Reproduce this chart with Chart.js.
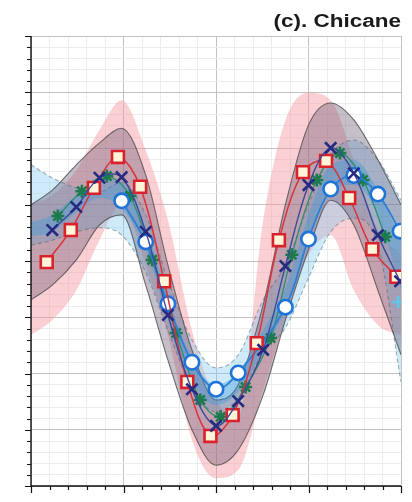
<!DOCTYPE html>
<html>
<head>
<meta charset="utf-8">
<script src="https://cdn.jsdelivr.net/npm/chart.js@4/dist/chart.umd.min.js"></script>
<style>
  html, body { margin: 0; padding: 0; background: #fff; }
  #wrap { position: relative; width: 412px; height: 502px; }
  #title {
    position: absolute; right: 11px; top: 12px;
    font: bold 18px "Liberation Sans", Arial, sans-serif; line-height: 18px;
    color: #1a1a1a; transform: scaleX(1.25); transform-origin: right top; white-space: nowrap;
  }
</style>
</head>
<body>
<div id="wrap">
  <canvas id="c" width="412" height="502"></canvas>
  <div id="title">(c). Chicane</div>
</div>
<script>
// Station along the chicane (m) and lateral offset of each estimate

// red squares
const squareX = [17, 43, 68, 94, 118, 144, 169, 194, 218, 244, 268, 294, 319, 344, 369, 395];
const squareY = [-0.02, 0.55, 1.30, 1.85, 1.32, -0.36, -2.15, -3.11, -2.74, -1.46, 0.37, 1.58, 1.78, 1.12, 0.21, -0.28];

// navy crosses and blue circles share their stations
const crossX = [23, 49, 74, 98, 124, 148, 174, 200, 224, 251, 275, 300, 324, 349, 375, 399];
const crossY = [0.55, 0.96, 1.48, 1.49, 0.52, -0.96, -2.28, -2.93, -2.49, -1.58, -0.09, 1.35, 2.01, 1.56, 0.46, -0.36];
const circleY = [null, null, null, 1.07, 0.34, -0.76, -1.80, -2.28, -1.99, null, -0.82, 0.39, 1.28, 1.52, 1.19, 0.53];

// green stars
const starX = [29, 55, 82, 107, 131, 157, 183, 205, 232, 259, 282, 309, 334, 359, 383];
const starY = [0.80, 1.24, 1.51, 1.16, 0.02, -1.28, -2.47, -2.77, -2.24, -1.37, 0.11, 1.44, 1.92, 1.44, 0.43];

// cyan plus
const plusX = [397];
const plusY = [-0.73];

// uncertainty bands (upper / lower) sampled at common stations
const bandX = [0, 23, 49, 74, 98, 124, 148, 174, 200, 224, 251, 275, 300, 324, 349, 375, 400];
const pinkUp = [1.00, 1.17, 1.62, 2.33, 2.86, 1.97, 0.73, -1.23, -2.47, -2.74, 0.73, 2.50, 2.99, 2.86, 1.80, 0.55, 0.11];
const pinkLo = [-1.32, -1.05, -0.52, 0.37, 1.00, -0.07, -1.32, -3.18, -3.86, -3.72, -2.29, -1.05, 0.11, 0.46, -0.52, -1.14, -1.32];
const greyUp = [1.00, 1.26, 1.71, 2.10, 2.36, 1.53, -0.07, -1.58, -2.47, -2.20, -0.78, 1.00, 2.42, 2.81, 2.51, 1.80, 1.00];
const greyLo = [-0.69, -0.43, 0.02, 0.64, 0.82, -0.43, -1.76, -3.00, -3.63, -3.36, -2.38, -1.05, 0.20, 1.08, 0.64, -0.52, -1.67];
const skyUp = [1.71, 1.48, 1.30, 1.23, 1.40, 0.82, -0.34, -1.40, -1.90, -1.67, -0.69, -0.07, 1.00, 1.88, 2.15, 1.80, 1.08];
const skyLo = [0.28, 0.37, 0.52, 0.59, 0.46, -0.20, -1.23, -2.26, -2.68, -2.44, -1.62, -1.19, -0.30, 0.52, 0.76, 0.28, -2.15];
const blueUp = [0.69, 0.82, 1.17, 1.48, 1.40, 0.59, -0.66, -1.72, -2.20, -1.97, -1.23, -0.48, 0.82, 1.71, 1.80, 1.26, 0.37];
const blueLo = [0.44, 0.52, 0.87, 1.12, 0.94, 0.20, -1.01, -2.12, -2.56, -2.33, -1.58, -0.87, 0.37, 1.26, 1.35, 0.82, -0.52];

const pts = (xs, ys) => xs.map((x, i) => ({ x, y: ys[i] }));

function band(up, lo, fillColor, border, dash, order) {
  const common = {
    pointRadius: 0, cubicInterpolationMode: 'monotone', order,
    borderColor: border, borderWidth: border ? 1.1 : 0, borderDash: dash || []
  };
  return [
    Object.assign({ data: pts(bandX, up), fill: false }, common),
    Object.assign({ data: pts(bandX, lo), fill: '-1', backgroundColor: fillColor }, common)
  ];
}

const isMajor = (v, step) => Math.abs(v / step - Math.round(v / step)) < 1e-6;

const axesPlugin = {
  id: 'axesTicks',
  afterDraw(chart) {
    const { ctx, chartArea: a, scales: { x, y } } = chart;
    ctx.save();
    ctx.strokeStyle = '#111';
    ctx.lineWidth = 1.4;
    ctx.beginPath();
    ctx.moveTo(a.left, a.top);
    ctx.lineTo(a.left, a.bottom);
    ctx.lineTo(a.right, a.bottom);
    ctx.stroke();
    ctx.lineWidth = 1.2;
    ctx.beginPath();
    y.ticks.forEach(t => {
      const py = Math.round(y.getPixelForValue(t.value)) + 0.5;
      ctx.moveTo(a.left, py);
      ctx.lineTo(a.left - (isMajor(t.value, 1) ? 6 : 4), py);
    });
    x.ticks.forEach(t => {
      const px = Math.round(x.getPixelForValue(t.value)) + 0.5;
      ctx.moveTo(px, a.bottom);
      ctx.lineTo(px, a.bottom + (isMajor(t.value, 100) ? 7 : 4));
    });
    ctx.stroke();
    ctx.restore();
  }
};

const datasets = [
  ...band(pinkUp, pinkLo, 'rgba(246,150,162,0.45)', null, null, 10),
  ...band(skyUp, skyLo, 'rgba(130,200,240,0.38)', 'rgba(90,110,120,0.55)', [4, 3], 9),
  ...band(greyUp, greyLo, 'rgba(95,78,105,0.36)', 'rgba(70,70,70,0.75)', null, 8),
  ...band(blueUp, blueLo, 'rgba(45,150,220,0.35)', null, null, 7),
  {
    data: pts(starX, starY), order: 4, tension: 0.35,
    borderColor: '#2a9070', borderWidth: 1.3,
    pointStyle: 'star', pointRadius: 6.5, pointBorderWidth: 2.6,
    pointBorderColor: '#1d7a4e', pointBackgroundColor: '#1d7a4e'
  },
  {
    data: pts(crossX, circleY), order: 3, tension: 0.35, spanGaps: true,
    borderColor: '#2b7fd6', borderWidth: 1.8,
    pointStyle: 'circle', pointRadius: 7.2, pointBorderWidth: 2.6,
    pointBorderColor: '#1f74d8', pointBackgroundColor: '#ffffff'
  },
  {
    data: pts(squareX, squareY), order: 2, tension: 0.35,
    borderColor: '#d8323c', borderWidth: 1.5,
    pointStyle: 'rect', pointRadius: 8.4, pointBorderWidth: 2.6,
    pointBorderColor: '#d9222c', pointBackgroundColor: '#fff4d8'
  },
  {
    data: pts(crossX, crossY), order: 1, tension: 0.35,
    borderColor: '#3a4a9a', borderWidth: 1.4,
    pointStyle: 'crossRot', pointRadius: 8, pointBorderWidth: 2.6,
    pointBorderColor: '#262a80'
  },
  {
    data: pts(plusX, plusY), order: 0, showLine: false,
    pointStyle: 'cross', pointRadius: 6, pointBorderWidth: 2.6,
    pointBorderColor: '#5cc8ea'
  }
];

new Chart(document.getElementById('c'), {
  type: 'line',
  data: { datasets },
  options: {
    responsive: false,
    animation: false,
    events: [],
    layout: { padding: { left: 31, right: 11, top: 36, bottom: 16 } },
    plugins: { legend: { display: false }, tooltip: { enabled: false } },
    scales: {
      x: {
        type: 'linear', min: 0, max: 400,
        ticks: { stepSize: 20, display: false },
        border: { display: false },
        grid: {
          drawTicks: false,
          color: c => isMajor(c.tick.value, 100) ? '#c2c2c2' : '#ededed',
          lineWidth: 1
        }
      },
      y: {
        type: 'linear', min: -4, max: 4,
        ticks: { stepSize: 0.2, display: false },
        border: { display: false },
        grid: {
          drawTicks: false,
          color: c => isMajor(c.tick.value, 1) ? '#c2c2c2' : '#ededed',
          lineWidth: 1
        }
      }
    }
  },
  plugins: [axesPlugin]
});
</script>
</body>
</html>
